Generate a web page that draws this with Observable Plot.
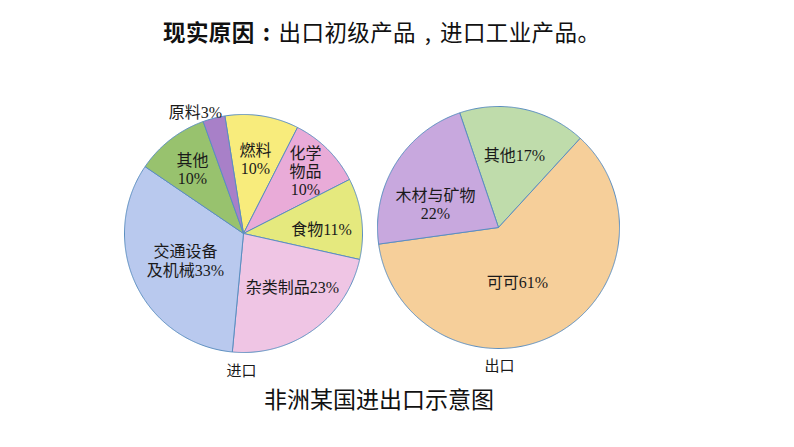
<!DOCTYPE html>
<html>
<head>
<meta charset="utf-8">
<script src="https://cdn.jsdelivr.net/npm/d3@7"></script>
<script src="https://cdn.jsdelivr.net/npm/@observablehq/plot@0.6"></script>
<style>
  html, body { margin: 0; padding: 0; background: #fff; }
  #wrap { width: 794px; height: 447px; position: relative; overflow: hidden; }
  #title { height: 62px; line-height: 62px; padding-left: 163px; font-size: 22.5px; letter-spacing: 0.4px;
           font-family: "Noto Sans CJK SC", "Noto Sans", sans-serif; color: #111; white-space: nowrap; }
  #title b { font-weight: 700; }
  #title .p { display: inline-block; width: 24px; text-align: center; }
  #caption { height: 36px; line-height: 36px; padding-left: 264px; font-size: 23px;
             font-family: "Noto Sans CJK SC", "Noto Sans", sans-serif; color: #111; white-space: nowrap; }
  svg { display: block; }
</style>
</head>
<body>
<div id="wrap">
  <div id="title"><b>现实原因<span class="p">:</span></b>出口初级产品<span class="p">,</span>进口工业产品。</div>
  <div id="chart"></div>
  <div id="caption">非洲某国进出口示意图</div>
</div>
<script>
// ---- data ----
const importCategories = ["燃料", "化学物品", "食物", "杂类制品", "交通设备及机械", "其他", "原料"];
const importValues = [10, 10, 11, 23, 33, 10, 3];
const exportCategories = ["其他", "可可", "木材与矿物"];
const exportValues = [17, 61, 22];
const pieNames = ["进口", "出口"];

// ---- styles ----
const importColors = ["#f8ec7c", "#e9abd8", "#e5e97e", "#efc5e4", "#b9c9ee", "#98c26e", "#a880c8"];
const exportColors = ["#bfdcab", "#f6cf9a", "#c8a8de"];

// ---- layout ----
const W = 794, H = 318;
const importLayout = {
  cx: 243, cy: 171, r: 119, startDeg: -9, nameDx: -2, nameDy: 138,
  labelOffsets: [[12, -74.5], [62, -62.5], [78, -4], [49, 54], [-58, 27], [-51, -64.5], [-48, -121]],
  labelBreaks: [[2], [2, 4], [], [], [4], [2], []]
};
const exportLayout = {
  cx: 498, cy: 165, r: 121, startDeg: -18.7, nameDx: 1, nameDy: 139,
  labelOffsets: [[16, -72], [19, 55], [-63, -23.5]],
  labelBreaks: [[], [], [5]]
};

function buildPie(id, cats, vals, colors, L) {
  const start = L.startDeg * Math.PI / 180;
  const arcs = d3.pie().sort(null).value(d => d).startAngle(start).endAngle(start + 2 * Math.PI)(vals);
  const pts = [];
  const labels = [];
  arcs.forEach((a, i) => {
    const key = id + "-" + i;
    const c = {x: L.cx, y: L.cy, key, color: colors[i]};
    pts.push(c);
    const n = Math.max(2, Math.ceil((a.endAngle - a.startAngle) / (Math.PI / 360)));
    for (let k = 0; k <= n; k++) {
      const t = a.startAngle + (a.endAngle - a.startAngle) * k / n;
      pts.push({x: L.cx + L.r * Math.sin(t), y: L.cy - L.r * Math.cos(t), key, color: colors[i]});
    }
    pts.push({...c});
    let s = cats[i] + vals[i] + "%";
    const br = L.labelBreaks[i];
    for (let j = br.length - 1; j >= 0; j--) s = s.slice(0, br[j]) + "\n" + s.slice(br[j]);
    labels.push({x: L.cx + L.labelOffsets[i][0], y: L.cy + L.labelOffsets[i][1], text: s});
  });
  return {pts, labels, name: {x: L.cx + L.nameDx, y: L.cy + L.nameDy}};
}

const pImp = buildPie("imp", importCategories, importValues, importColors, importLayout);
const pExp = buildPie("exp", exportCategories, exportValues, exportColors, exportLayout);
const names = [
  {...pImp.name, text: pieNames[0]},
  {...pExp.name, text: pieNames[1]}
];

const labelFont = "'Liberation Serif', 'Noto Sans CJK SC', serif";

const plot = Plot.plot({
  width: W, height: H,
  marginTop: 0, marginRight: 0, marginBottom: 0, marginLeft: 0,
  x: {domain: [0, W], range: [0, W], axis: null},
  y: {domain: [0, H], range: [0, H], axis: null},
  color: {type: "identity"},
  style: {background: "transparent", overflow: "visible"},
  marks: [
    Plot.line(pImp.pts.concat(pExp.pts), {
      x: "x", y: "y", z: "key", fill: "color",
      stroke: "#5b8ec0", strokeWidth: 1, strokeLinejoin: "round", curve: "linear"
    }),
    Plot.text(pImp.labels.concat(pExp.labels), {
      x: "x", y: "y", text: "text", fontSize: 16, lineHeight: 1.15,
      fill: "#1a1a1a", fontFamily: labelFont, textAnchor: "middle", lineAnchor: "middle"
    }),
    Plot.text(names, {
      x: "x", y: "y", text: "text", fontSize: 15,
      fill: "#1a1a1a", fontFamily: labelFont, textAnchor: "middle", lineAnchor: "middle"
    })
  ]
});
document.getElementById("chart").appendChild(plot);
</script>
</body>
</html>
